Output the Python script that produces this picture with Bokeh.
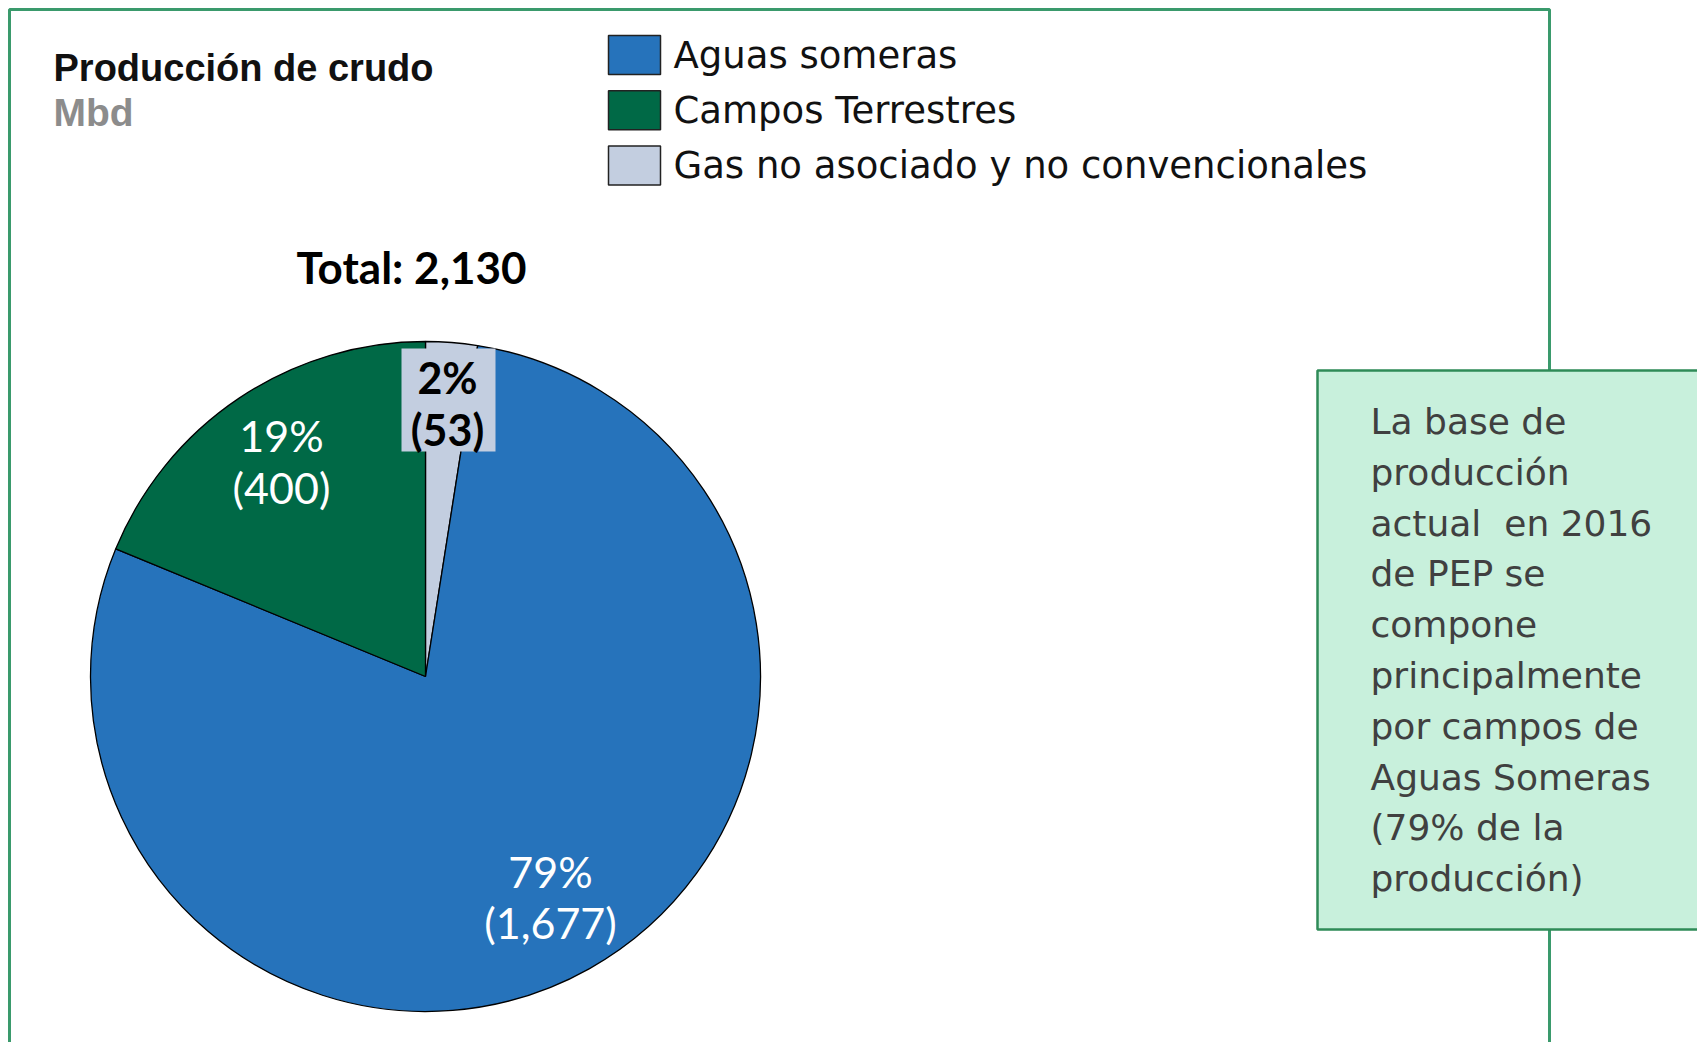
import math
from bokeh.plotting import figure
from bokeh.models import Range1d
from bokeh.core.properties import value
from bokeh.embed import file_html
from bokeh.resources import INLINE

# ---------------- data ----------------
categories = ["Aguas someras", "Campos Terrestres", "Gas no asociado y no convencionales"]
values_mbd = [1677, 400, 53]
pct_labels = ["79%", "19%", "2%"]
num_labels = ["(1,677)", "(400)", "(53)"]
colors = ["#2673BB", "#006946", "#C3CEE0"]
total_label = "Total: 2,130"
title = "Producción de crudo"
unit = "Mbd"
note_lines = ["La base de", "producción", "actual\u00a0 en 2016", "de PEP se", "compone",
              "principalmente", "por campos de", "Aguas Someras", "(79% de la", "producción)"]

# drawing order of slices clockwise from 12 o'clock
pie_order = [2, 0, 1]

W, H = 1697, 1042
def X(x):  # page px -> data
    return x
def Y(y):
    return H - y

p = figure(width=W, height=H, output_backend="svg", toolbar_location=None,
           x_range=Range1d(0, W), y_range=Range1d(0, H), min_border=0)
p.axis.visible = False
p.grid.visible = False
p.outline_line_color = None
p.background_fill_color = "white"
p.border_fill_color = "white"

GREEN_LINE = "#3A9A6C"
# outer frame
p.quad(left=[X(9)], right=[X(1549)], top=[Y(9)], bottom=[Y(1080)],
       fill_color=None, line_color=GREEN_LINE, line_width=3)

# title
p.text(x=[X(53)], y=[Y(67)], text=[title], text_font=value("Liberation Sans"), text_font_style="bold",
       text_font_size="38px", text_color="#111111", text_baseline="middle", text_align="left")
p.text(x=[X(53)], y=[Y(112)], text=[unit], text_font=value("Liberation Sans"), text_font_style="bold",
       text_font_size="39px", text_color="#8C8C8C", text_baseline="middle", text_align="left")

# legend
for i, (cat, col) in enumerate(zip(categories, colors)):
    yc = Y(54.5 + i * 55.3)
    p.rect(x=[X(634)], y=[yc], width=52, height=39, fill_color=col,
           line_color="#222222", line_width=1.5)
    p.text(x=[X(673)], y=[yc], text=[cat], text_font=value("DejaVu Sans"),
           text_font_size="37px", text_color="#111111", text_baseline="middle", text_align="left")

# total
p.text(x=[X(411)], y=[Y(266)], text=[total_label], text_font=value("Lato"), text_font_style="bold",
       text_font_size="44px", text_color="#000000", text_baseline="middle", text_align="center")

# pie
cx, cy, r = X(425), Y(676), 335
total = sum(values_mbd)
cum = 0.0
for idx in pie_order:
    v = values_mbd[idx]
    end = math.pi / 2 - cum / total * 2 * math.pi
    start = math.pi / 2 - (cum + v) / total * 2 * math.pi
    p.wedge(x=[cx], y=[cy], radius=r, start_angle=start, end_angle=end,
            fill_color=colors[idx], line_color="#000000", line_width=1.3)
    cum += v

# label box for small slice
p.quad(left=[X(401)], right=[X(495)], top=[Y(348)], bottom=[Y(451)],
       fill_color=colors[2], line_color=None)

label_pos = {0: (550, 871, 922, "#FFFFFF", "normal"),
             1: (281, 435, 487, "#FFFFFF", "normal"),
             2: (447, 377, 429, "#000000", "bold")}
for idx, (lx, y1, y2, col, style) in label_pos.items():
    p.text(x=[X(lx)], y=[Y(y1)], text=[pct_labels[idx]], text_font=value("Lato"),
           text_font_style=style, text_font_size="43px", text_color=col,
           text_baseline="middle", text_align="center")
    p.text(x=[X(lx)], y=[Y(y2)], text=[num_labels[idx]], text_font=value("Lato"),
           text_font_style=style, text_font_size="43px", text_color=col,
           text_baseline="middle", text_align="center")

# note box
p.quad(left=[X(1317)], right=[X(1760)], top=[Y(370)], bottom=[Y(929)],
       fill_color="#C8F0DC", line_color="#2E8B57", line_width=2.5)
for i, line in enumerate(note_lines):
    p.text(x=[X(1370)], y=[Y(421 + i * 50.8)], text=[line], text_font=value("DejaVu Sans"),
           text_font_size="36px", text_color="#404040", text_baseline="middle", text_align="left")

open("out.html", "w").write(file_html(p, INLINE))
